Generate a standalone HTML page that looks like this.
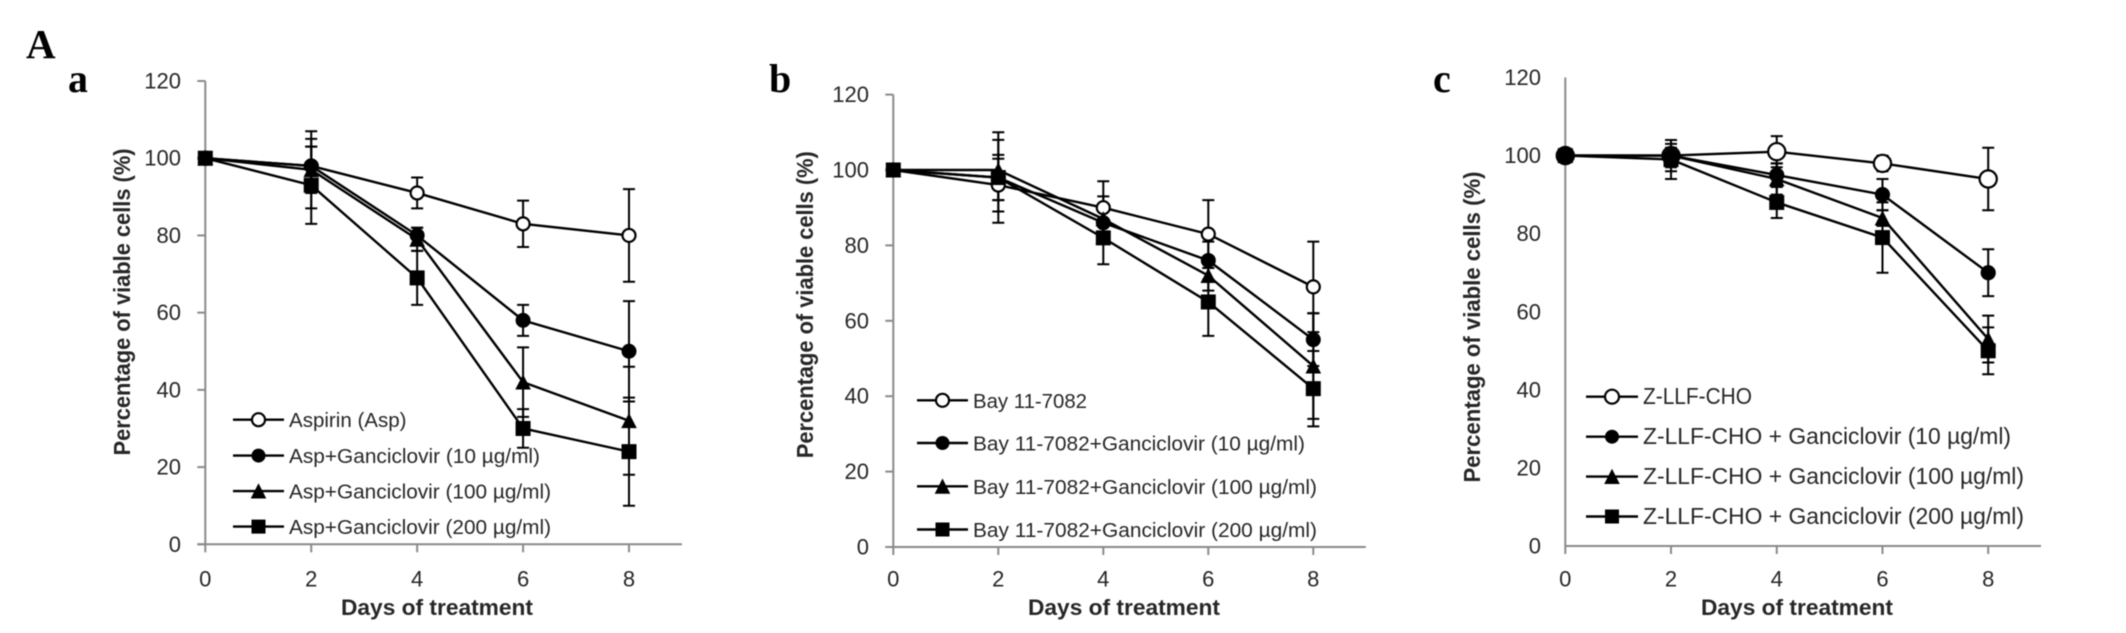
<!DOCTYPE html>
<html lang="en">
<head>
<meta charset="utf-8">
<title>Percentage of viable cells over days of treatment</title>
<style>
html,body{margin:0;padding:0;background:#fff;width:2126px;height:633px;overflow:hidden}
#figure{position:absolute;left:0;top:0;width:2126px;height:633px;display:block;filter:blur(0.5px)}
text{font-family:"Liberation Sans",sans-serif;fill:#262626}
.serif{font-family:"Liberation Serif",serif;font-weight:bold;fill:#000}
</style>
</head>
<body>
<svg id="figure" xmlns="http://www.w3.org/2000/svg" width="2126" height="633" viewBox="0 0 2126 633">
  <text class="serif" x="26" y="58" font-size="41">A</text>
  <text class="serif" x="68" y="92" font-size="40">a</text>
  <text class="serif" x="769" y="92" font-size="40">b</text>
  <text class="serif" x="1433" y="92" font-size="40">c</text>
</svg>
<script>
const days = [0, 2, 4, 6, 8];
const xTickLabels = ["0", "2", "4", "6", "8"];
const yTickLabels = ["0", "20", "40", "60", "80", "100", "120"];
const xMaxDay = 9;
const yMaxValue = 120;
const markerShapes = ["open-circle", "filled-circle", "triangle", "square"];

const aLabels = ["Aspirin (Asp)", "Asp+Ganciclovir (10 µg/ml)", "Asp+Ganciclovir (100 µg/ml)", "Asp+Ganciclovir (200 µg/ml)"];
const aAspirin = [100, 98, 91, 83, 80];
const aAspirinErr = [0, 5, 4, 6, 12];
const aGcv10 = [100, 98, 80, 58, 50];
const aGcv10Err = [0, 7, 2, 4, 13];
const aGcv100 = [100, 97, 79, 42, 32];
const aGcv100Err = [0, 10, 3, 9, 14];
const aGcv200 = [100, 93, 69, 30, 24];
const aGcv200Err = [0, 10, 7, 5, 14];

const bLabels = ["Bay 11-7082", "Bay 11-7082+Ganciclovir (10 µg/ml)", "Bay 11-7082+Ganciclovir (100 µg/ml)", "Bay 11-7082+Ganciclovir (200 µg/ml)"];
const bBay = [100, 96, 90, 83, 69];
const bBayErr = [0, 7, 7, 9, 12];
const bGcv10 = [100, 98, 86, 76, 55];
const bGcv10Err = [0, 6, 5, 5, 7];
const bGcv100 = [100, 100, 87, 72, 48];
const bGcv100Err = [0, 8, 6, 4, 14];
const bGcv200 = [100, 98, 82, 65, 42];
const bGcv200Err = [0, 12, 7, 9, 10];

const cLabels = ["Z-LLF-CHO", "Z-LLF-CHO + Ganciclovir (10 µg/ml)", "Z-LLF-CHO + Ganciclovir (100 µg/ml)", "Z-LLF-CHO + Ganciclovir (200 µg/ml)"];
const cZllf = [100, 100, 101, 98, 94];
const cZllfErr = [0, 4, 4, 2, 8];
const cGcv10 = [100, 100, 95, 90, 70];
const cGcv10Err = [0, 3, 3, 4, 6];
const cGcv100 = [100, 100, 94, 84, 53];
const cGcv100Err = [0, 2, 4, 2, 6];
const cGcv200 = [100, 99, 88, 79, 50];
const cGcv200Err = [0, 5, 4, 9, 6];

const NS = "http://www.w3.org/2000/svg";
const svg = document.getElementById("figure");

function make(tag, attrs, parent) {
  const node = document.createElementNS(NS, tag);
  for (const k in attrs) node.setAttribute(k, attrs[k]);
  parent.appendChild(node);
  return node;
}

function drawMarker(shape, x, y, r, parent) {
  let m;
  if (shape === "open-circle") {
    m = make("circle", {cx: x, cy: y, r: r.open, fill: "#fff", stroke: "#000", "stroke-width": 2.2}, parent);
  } else if (shape === "filled-circle") {
    m = make("circle", {cx: x, cy: y, r: r.filled, fill: "#000"}, parent);
  } else if (shape === "triangle") {
    const s = r.tri;
    m = make("polygon", {points: (x - s) + "," + (y + s * 0.95) + " " + (x + s) + "," + (y + s * 0.95) + " " + x + "," + (y - s * 1.0), fill: "#000"}, parent);
  } else {
    const h = r.sq;
    m = make("rect", {x: x - h, y: y - h, width: 2 * h, height: 2 * h, fill: "#000"}, parent);
  }
  return m;
}

function drawPanel(p) {
  const xScale = function (d) { return p.x0 + (p.x8 - p.x0) * d / 8; };
  const yScale = function (v) { return p.y0 - (p.y0 - p.y120) * v / yMaxValue; };

  const g = make("g", {}, svg);
  
  

  const yAxis = make("line", {x1: xScale(0), x2: xScale(0), y1: yScale(yMaxValue), y2: yScale(0), stroke: "#8a8a8a", "stroke-width": 2}, g);
  
  

  const xAxis = make("line", {x1: xScale(0) - (p.yTicks ? 8 : 0), x2: xScale(xMaxDay), y1: yScale(0), y2: yScale(0), stroke: "#8a8a8a", "stroke-width": 2}, g);
  
  

  yTickLabels.forEach(function (label) {
    const v = Number(label);
    if (p.yTicks) {
      const tick = make("line", {x1: xScale(0) - 8, x2: xScale(0), y1: yScale(v), y2: yScale(v), stroke: "#8a8a8a", "stroke-width": 2}, g);
      
      
    }
    const t = make("text", {x: p.yLabelRight, y: yScale(v) + 7.5, "text-anchor": "end", "font-size": 22}, g);
    t.textContent = label;
    
    
  });

  xTickLabels.forEach(function (label) {
    const d = Number(label);
    const tick = make("line", {x1: xScale(d), x2: xScale(d), y1: yScale(0), y2: yScale(0) + 8, stroke: "#8a8a8a", "stroke-width": 2}, g);
    
    
    const t = make("text", {x: xScale(d), y: 586.5, "text-anchor": "middle", "font-size": 22}, g);
    t.textContent = label;
    
    
  });

  const xTitle = make("text", {x: p.xTitleX, y: 615, "text-anchor": "middle", "font-size": 22.5, "font-weight": "bold", textLength: 192, lengthAdjust: "spacingAndGlyphs"}, g);
  xTitle.textContent = "Days of treatment";
  
  

  const yTitle = make("text", {transform: "translate(" + p.yTitleX + "," + p.yTitleY + ") rotate(-90)", "text-anchor": "middle", "font-size": 23, "font-weight": "bold", textLength: p.yTitleLen, lengthAdjust: "spacingAndGlyphs"}, g);
  yTitle.textContent = "Percentage of viable cells (%)";
  
  

  p.series.forEach(function (s, i) {
    const sg = make("g", {}, g);
    
    

    s.values.forEach(function (v, j) {
      const e = s.errors[j];
      if (!e) return;
      const x = xScale(days[j]);
      const bar = make("path", {
        d: "M" + x + " " + yScale(v + e) + "V" + yScale(v - e) +
           "M" + (x - 6) + " " + yScale(v + e) + "H" + (x + 6) +
           "M" + (x - 6) + " " + yScale(v - e) + "H" + (x + 6),
        fill: "none", stroke: "#000", "stroke-width": 2
      }, sg);
      
      
    });

    const pts = s.values.map(function (v, j) { return xScale(days[j]) + "," + yScale(v); }).join(" ");
    const line = make("polyline", {points: pts, fill: "none", stroke: "#000", "stroke-width": 2.4}, sg);
    
    
  });

  p.series.forEach(function (s, i) {
    s.values.forEach(function (v, j) {
      const m = drawMarker(markerShapes[i], xScale(days[j]), yScale(v), p.marker, g);
      
      
    });
  });

  const legend = make("g", {}, g);
  
  
  p.labels.forEach(function (label, i) {
    const ly = p.legendY[i];
    const entry = make("g", {}, legend);
    
    
    const swatch = make("line", {x1: p.legendLine[0], x2: p.legendLine[1], y1: ly, y2: ly, stroke: "#000", "stroke-width": 2.4}, entry);
    
    
    const lm = drawMarker(markerShapes[i], (p.legendLine[0] + p.legendLine[1]) / 2, ly, p.legendMarker, entry);
    
    
    const t = make("text", {x: p.legendTextX, y: ly + 7.5, "font-size": p.legendFont, textLength: p.legendWidths[i], lengthAdjust: "spacingAndGlyphs"}, entry);
    t.textContent = label;
    
    
  });
}

drawPanel({
  id: "a", x0: 205.3, x8: 629, y0: 544.3, y120: 81, yTicks: true, yLabelRight: 181,
  xTitleX: 437, yTitleX: 130, yTitleY: 302, yTitleLen: 307,
  marker: {open: 6.5, filled: 7.5, tri: 7.8, sq: 7.5},
  legendMarker: {open: 6.5, filled: 7, tri: 7.8, sq: 7},
  labels: aLabels,
  series: [
    {values: aAspirin, errors: aAspirinErr},
    {values: aGcv10, errors: aGcv10Err},
    {values: aGcv100, errors: aGcv100Err},
    {values: aGcv200, errors: aGcv200Err}
  ],
  legendLine: [233, 284], legendTextX: 289, legendY: [419.7, 455.6, 491.1, 526.6], legendFont: 20.5, legendWidths: [117.5, 251, 262, 262]
});

drawPanel({
  id: "b", x0: 893.3, x8: 1313.3, y0: 547, y120: 94.6, yTicks: true, yLabelRight: 869,
  xTitleX: 1124, yTitleX: 813, yTitleY: 304.7, yTitleLen: 307,
  marker: {open: 6.5, filled: 7.5, tri: 7.8, sq: 7.5},
  legendMarker: {open: 6.5, filled: 7, tri: 7.8, sq: 7},
  labels: bLabels,
  series: [
    {values: bBay, errors: bBayErr},
    {values: bGcv10, errors: bGcv10Err},
    {values: bGcv100, errors: bGcv100Err},
    {values: bGcv200, errors: bGcv200Err}
  ],
  legendLine: [917, 968], legendTextX: 973, legendY: [400.3, 443, 486.3, 529.5], legendFont: 20.5, legendWidths: [114, 332, 344, 344]
});

drawPanel({
  id: "c", x0: 1565.3, x8: 1988.2, y0: 546, y120: 77.5, yTicks: false, yLabelRight: 1541,
  xTitleX: 1797, yTitleX: 1480, yTitleY: 327, yTitleLen: 311,
  marker: {open: 8.6, filled: 7.6, tri: 7.8, sq: 7.5},
  legendMarker: {open: 7, filled: 7, tri: 7.8, sq: 7},
  labels: cLabels,
  series: [
    {values: cZllf, errors: cZllfErr},
    {values: cGcv10, errors: cGcv10Err},
    {values: cGcv100, errors: cGcv100Err},
    {values: cGcv200, errors: cGcv200Err}
  ],
  legendLine: [1586, 1638], legendTextX: 1643, legendY: [396.7, 436.7, 476.6, 516.5], legendFont: 23.5, legendWidths: [109, 368, 381, 381]
});
</script>
</body>
</html>
